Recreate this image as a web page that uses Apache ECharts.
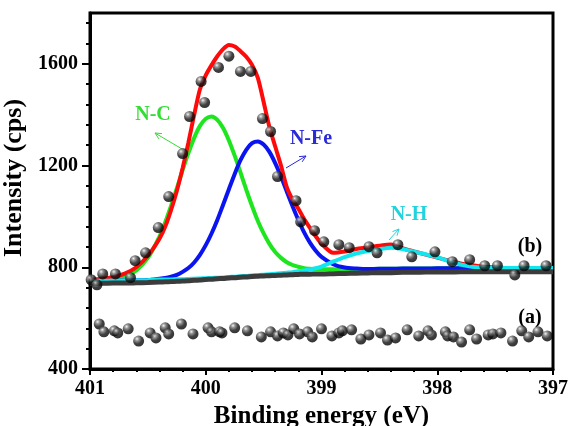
<!DOCTYPE html>
<html>
<head>
<meta charset="utf-8">
<script src="https://cdn.jsdelivr.net/npm/echarts@6/dist/echarts.min.js"></script>
<style>
  html, body { margin: 0; padding: 0; background: #fff; }
  #chart { width: 570px; height: 426px; }
</style>
</head>
<body>
<div id="chart"></div>
<script>
// energy grid for the fitted curves (eV), finer round the peaks
const energy = [401.0,400.9,400.8,400.7,400.6,400.5,400.4,
  400.35,400.3,400.25,400.2,400.15,400.1,400.05,400.0,399.95,399.9,399.85,399.8,399.75,399.7,399.65,399.6,399.55,399.5,399.45,399.4,399.35,399.3,399.25,399.2,399.15,399.1,399.05,399.0,
  398.9,398.8,398.7,398.6,398.5,398.4,398.3,398.2,398.1,398.0,397.9,397.8,397.7,397.6,397.5,397.4,397.3,397.2,397.1,397.0]
// shirley background (grey)
const background = [737,737,738,738,739,740,742,
  743,744,745,746,747,749,750,752,753,755,756,758,759,761,762,764,765,766,767,768,769,770,771,772,773,773,774,774,
  775,776,777,778,779,779,780,780,781,781,781,782,782,782,782,782,782,782,782,782]
// components
const nC = [747,749,753,763,788,837,921,
  977,1041,1110,1182,1249,1309,1356,1384,1393,1380,1348,1299,1239,1173,1105,1041,982,933,892,860,837,820,809,802,796,794,792,792,
  792,792,793,793,794,794,795,795,795,796,796,796,796,797,797,797,797,797,797,797]
const nFe = [747,747,748,748,749,750,755,
  758,763,770,782,797,819,849,887,933,986,1046,1107,1167,1221,1262,1288,1295,1283,1254,1210,1157,1098,1040,986,937,897,865,841,
  812,799,795,793,794,794,795,795,795,796,796,796,796,797,797,797,797,797,797,797]
const nH = [747,747,748,748,749,750,752,
  752,752,753,753,754,755,756,757,758,759,760,762,763,765,766,768,769,771,773,775,777,779,781,784,787,791,796,803,
  822,840,854,864,871,877,872,861,851,840,824,811,802,798,797,797,797,797,797,797]
// envelope (red)
const envelope = [751,755,761,775,800,845,912,
  960,1025,1100,1190,1290,1400,1500,1555,1595,1630,1658,1674,1668,1650,1628,1596,1545,1450,1352,1275,1200,1115,1066,1030,990,955,922,893,
  857,862,872,878,885,890,875,862,850,838,826,815,808,802,799,797,797,797,797,797]

// measured points, sample (b)
const bEnergy = [400.99,400.94,400.89,400.78,400.65,400.61,400.52,400.41,400.32,400.20,400.14,400.04,400.01,399.89,399.80,399.70,399.61,399.51,399.44,399.38,399.22,399.18,399.06,398.98,398.85,398.76,398.59,398.52,398.34,398.22,398.02,397.87,397.72,397.59,397.48,397.33,397.25,397.06]
const bCounts = [751,731,774,774,759,826,857,956,1078,1247,1393,1531,1448,1586,1630,1570,1570,1385,1334,1157,1062,979,944,900,889,877,881,857,889,841,861,822,830,806,806,770,806,806]
// measured points, sample (a)
const aEnergy = [400.92,400.88,400.79,400.76,400.67,400.58,400.48,400.43,400.35,400.32,400.21,400.11,399.98,399.95,399.88,399.86,399.75,399.64,399.52,399.44,399.38,399.33,399.29,399.24,399.19,399.12,399.08,399.00,398.91,398.85,398.82,398.74,398.66,398.59,398.49,398.43,398.36,398.26,398.16,398.08,398.05,397.93,397.91,397.86,397.79,397.72,397.66,397.56,397.52,397.45,397.35,397.27,397.21,397.13,397.05]
const aCounts = [577,546,550,542,558,510,542,522,562,538,577,538,562,546,546,542,562,550,526,546,530,542,534,558,538,546,526,558,530,542,550,554,518,534,542,514,522,554,530,550,534,546,530,526,506,554,518,534,538,542,510,550,526,546,530]

const yMajor = [400, 800, 1200, 1600]
const yMinor = [480,560,640,720,880,960,1040,1120,1280,1360,1440,1520,1680,1760]

const FONT = '"Liberation Serif", "Times New Roman", serif'

const pair = (xs, ys) => xs.map((x, i) => [x, ys[i]])

// 3d looking ball
const ball = new echarts.graphic.RadialGradient(0.35, 0.3, 0.75, [
  { offset: 0, color: '#f0f0f0' },
  { offset: 0.25, color: '#777' },
  { offset: 0.6, color: '#111' },
  { offset: 1, color: '#000' }
])

function curve(name, data, color, width, z) {
  return {
    name: name,
    type: 'line',
    data: data,
    showSymbol: false,
    smooth: 0.25,
    z: z,
    lineStyle: { color: color, width: width },
    silent: true
  }
}

// small open arrow for annotations
function arrow(x1, y1, x2, y2, color) {
  const ang = Math.atan2(y2 - y1, x2 - x1)
  const L = 7, a = 0.45
  return {
    type: 'group',
    children: [
      { type: 'line', shape: { x1: x1, y1: y1, x2: x2, y2: y2 }, style: { stroke: color, lineWidth: 1 } },
      {
        type: 'polyline',
        shape: { points: [
          [x2 - L * Math.cos(ang - a), y2 - L * Math.sin(ang - a)],
          [x2, y2],
          [x2 - L * Math.cos(ang + a), y2 - L * Math.sin(ang + a)]
        ] },
        style: { stroke: color, lineWidth: 1, fill: null }
      }
    ]
  }
}

function label(text, x, y, color) {
  return {
    type: 'text', x: x, y: y,
    style: { text: text, fill: color, font: 'bold 20px ' + FONT, align: 'center', verticalAlign: 'middle' }
  }
}

const chart = echarts.init(document.getElementById('chart'))

const option = {
  animation: false,
  backgroundColor: '#fff',
  grid: {
    left: 90, right: 17, top: 13, bottom: 57,
    containLabel: false, outerBoundsMode: 'none',
    show: true, borderColor: '#000', borderWidth: 3, backgroundColor: 'transparent'
  },
  xAxis: {
    type: 'value',
    min: 397, max: 401, interval: 1, inverse: true,
    name: 'Binding energy (eV)',
    nameLocation: 'middle', nameGap: 31,
    nameTextStyle: { fontFamily: FONT, fontWeight: 'bold', fontSize: 25, color: '#000' },
    axisLine: { lineStyle: { color: '#000', width: 3 } },
    axisTick: { length: 6, lineStyle: { color: '#000', width: 2 } },
    minorTick: { show: true, splitNumber: 5, length: 3, lineStyle: { color: '#000', width: 2 } },
    axisLabel: { fontFamily: FONT, fontWeight: 'bold', fontSize: 20, color: '#000', margin: 10 },
    splitLine: { show: false }
  },
  yAxis: [
    {
      type: 'value',
      min: 400, max: 1800,
      name: 'Intensity (cps)',
      nameLocation: 'middle', nameGap: 46,
      nameTextStyle: {
        fontFamily: FONT, fontWeight: 'bold', fontSize: 26, color: '#000',
        padding: [0, 0, 0, 26]
      },
      axisLine: { lineStyle: { color: '#000', width: 3 } },
      axisTick: { length: 8, customValues: yMajor, lineStyle: { color: '#000', width: 2 } },
      axisLabel: {
        customValues: yMajor, formatter: (v) => String(v),
        fontFamily: FONT, fontWeight: 'bold', fontSize: 20, color: '#000', margin: 12
      },
      splitLine: { show: false }
    },
    {
      // only used for the small ticks
      type: 'value',
      position: 'left',
      min: 400, max: 1800,
      axisLine: { show: false },
      axisTick: { length: 4, customValues: yMinor, lineStyle: { color: '#000', width: 2 } },
      axisLabel: { show: false },
      splitLine: { show: false }
    }
  ],
  series: [
    curve('N-C', pair(energy, nC), '#1ee61e', 4, 3),
    curve('N-Fe', pair(energy, nFe), '#0a14f0', 4, 4),
    curve('fit', pair(energy, envelope), '#ff0a0a', 4, 5),
    curve('N-H', pair(energy, nH), '#11e6ee', 4, 6),
    curve('background', pair(energy, background), '#3c3c3c', 5, 7),
    {
      name: '(b)', type: 'scatter', data: pair(bEnergy, bCounts),
      symbolSize: 11, z: 10, itemStyle: { color: ball }
    },
    {
      name: '(a)', type: 'scatter', data: pair(aEnergy, aCounts),
      symbolSize: 11, z: 10, itemStyle: { color: ball }
    }
  ],
  graphic: [
    label('N-C', 153, 115, '#33dd33'),
    arrow(182, 149, 155, 133, '#33dd33'),
    label('N-Fe', 311, 139, '#2a2ad8'),
    arrow(286, 168, 306, 156, '#2a2ad8'),
    label('N-H', 409, 215, '#22d3dd'),
    arrow(389, 240, 399, 229, '#22d3dd'),
    label('(b)', 530, 247, '#000'),
    label('(a)', 530, 318, '#000')
  ]
}

chart.setOption(option)
</script>
</body>
</html>
